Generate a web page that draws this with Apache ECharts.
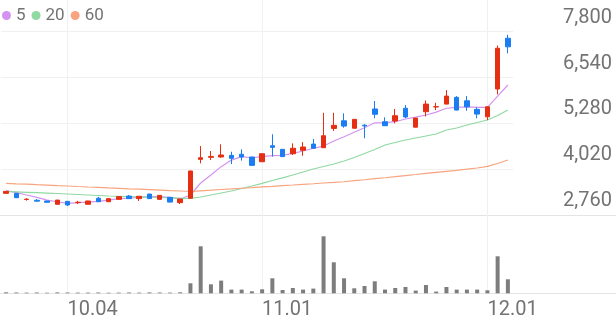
<!DOCTYPE html>
<html>
<head>
<meta charset="utf-8">
<script src="https://cdn.jsdelivr.net/npm/echarts@6/dist/echarts.min.js"></script>
<style>
html,body{margin:0;padding:0;background:#fff;}
#chart{width:616px;height:321px;}
</style>
</head>
<body>
<div id="chart"></div>
<script>
// ---- data ----
const dates = ['09.20','09.21','09.22','09.25','09.26','09.27',
 '10.04','10.05','10.06','10.10','10.11','10.12','10.13','10.16','10.17','10.18','10.19','10.20','10.23','10.24','10.25','10.26','10.27','10.30','10.31',
 '11.01','11.02','11.03','11.06','11.07','11.08','11.09','11.10','11.13','11.14','11.15','11.16','11.17','11.20','11.21','11.22','11.23','11.24','11.27','11.28','11.29','11.30',
 '12.01','12.04','12.05'];
const opens  = [3355,3355,3185,3165,3145,3055,3135,3100,3055,3220,3125,3190,3280,3210,3335,3190,3245,3100,3220,4290,4345,4355,4400,4430,4355,4225,4665,4565,4445,4540,4710,4610,5140,5350,5145,5230,5675,5325,5345,5695,5175,5600,5730,5810,5995,5900,5665,5460,6225,7620];
const closes = [3410,3235,3195,3140,3110,3170,3035,3110,3145,3125,3210,3265,3210,3275,3210,3300,3115,3200,3970,4335,4370,4410,4320,4355,4125,4445,4620,4365,4595,4630,4595,4940,5225,5205,5390,5210,5530,5215,5490,5455,5425,5810,5740,6030,5645,5735,5535,5735,7345,7385];
const lows   = [3345,3230,3155,3135,3105,3050,3005,3060,3050,3120,3120,3185,3205,3145,3205,3185,3110,3060,3210,4180,4270,4335,4160,4255,4120,4220,4365,4360,4410,4390,4590,4605,5070,5160,5140,4870,5420,5210,5280,5420,5170,5470,5645,5805,5640,5625,5420,5370,6075,7205];
const highs  = [3420,3360,3220,3200,3150,3175,3140,3150,3150,3260,3215,3270,3310,3280,3345,3310,3250,3205,3975,4655,4520,4705,4500,4565,4360,4450,4980,4570,4730,4765,4850,5570,5570,5555,5395,5255,5895,5445,5675,5785,5430,5910,5845,6195,6030,6030,5720,5740,7420,7715];
const volumes = [10000,8000,7000,8000,6000,9000,8000,7000,7000,8000,6000,7000,8000,7000,9000,8000,7000,10000,100000,470000,90000,127000,37000,37000,20000,40000,150000,33000,53000,37000,47000,570000,310000,150000,50000,73000,120000,37000,53000,63000,27000,83000,17000,63000,37000,37000,37000,30000,370000,140000];
const ma5  = [3430,3375,3310,3245,3170,3125,3080,3100,3115,3135,3170,3210,3220,3245,3265,3265,3245,3200,3310,3640,3860,4090,4270,4365,4335,4365,4390,4400,4455,4520,4595,4655,4795,4910,5035,5160,5295,5300,5325,5400,5450,5510,5590,5695,5720,5735,5720,5720,6030,6335];
const ma20 = [3406,3395,3384,3373,3362,3351,3337,3324,3310,3296,3282,3274,3266,3258,3249,3241,3233,3225,3219,3255,3310,3365,3420,3488,3557,3631,3708,3783,3860,3942,4025,4093,4162,4244,4341,4451,4561,4684,4753,4822,4877,4932,4987,5097,5152,5234,5303,5372,5495,5646];
const ma60 = [3631,3618,3607,3593,3582,3568,3557,3543,3530,3519,3505,3494,3480,3469,3456,3444,3431,3420,3406,3425,3442,3461,3477,3496,3513,3532,3549,3568,3585,3604,3620,3640,3656,3675,3703,3730,3758,3785,3813,3843,3873,3904,3934,3961,3989,4019,4052,4099,4176,4272];
const priceTicks = [2760,4020,5280,6540,7800];
const dateTicks = ['10.04','11.01','12.01'];
const maNames = ['5','20','60'];

// ---- styles ----
const UP = '#e62f12', DOWN = '#1a7ef2';
const MA_COLORS = ['#d493f0','#8fd9a2','#f7a47f'];
const GRID_COLOR = '#f0f0f0';
const SEP_COLOR = '#e4e4e4';
const TXT = '#737373';
const FONT = 'Roboto, "Noto Sans", sans-serif';

const candleData = dates.map((d,i)=>[opens[i], closes[i], lows[i], highs[i]]);
const vLines = {
  silent: true, symbol: 'none', z: 1, animation: false,
  label: {show: false},
  lineStyle: {color: GRID_COLOR, width: 1, type: 'solid'},
  emphasis: {disabled: true},
  data: dateTicks.map(d => ({xAxis: d}))
};

const chart = echarts.init(document.getElementById('chart'), null, {renderer: 'canvas'});
chart.setOption({
  animation: false,
  backgroundColor: '#fff',
  textStyle: {fontFamily: FONT},
  legend: {
    data: maNames, left: 2, top: 7, icon: 'circle', itemWidth: 9, itemHeight: 9,
    itemGap: 6, padding: 0, selectedMode: false,
    textStyle: {fontSize: 17, color: TXT, fontFamily: FONT}
  },
  grid: [
    {left: 1, top: 0, width: 512, height: 215},
    {left: 1, top: 215, width: 512, height: 78.3},
    {left: 0, right: 0, top: 0, height: 215},
    {left: 0, right: 0, top: 215, height: 78.3}
  ],
  xAxis: [
    {type: 'category', gridIndex: 0, data: dates, boundaryGap: true,
     axisLine: {show: false}, axisTick: {show: false}, axisLabel: {show: false}, splitLine: {show: false}},
    {type: 'category', gridIndex: 1, data: dates, boundaryGap: true,
     axisLine: {show: false}, axisTick: {show: false}, splitLine: {show: false},
     axisLabel: {show: true, interval: (i, v) => dateTicks.includes(v), align: 'left',
       fontSize: 20, color: TXT, fontFamily: FONT, margin: 7}},
    {type: 'value', gridIndex: 2, axisLine: {show: true, onZero: false, lineStyle: {color: SEP_COLOR}},
     axisTick: {show: false}, axisLabel: {show: false}, splitLine: {show: false}},
    {type: 'value', gridIndex: 3, axisLine: {show: true, onZero: false, lineStyle: {color: SEP_COLOR}},
     axisTick: {show: false}, axisLabel: {show: false}, splitLine: {show: false}}
  ],
  yAxis: [
    {type: 'value', gridIndex: 0, position: 'right', min: 2760, max: 8672, scale: true,
     axisLine: {show: false},
     axisTick: {show: false, customValues: priceTicks},
     axisLabel: {show: true, customValues: priceTicks, align: 'right', verticalAlign: 'bottom',
       margin: 99, fontSize: 20, color: TXT, fontFamily: FONT, padding: [0,0,4,0],
       formatter: v => v.toLocaleString('en-US')},
     splitLine: {show: true, lineStyle: {color: GRID_COLOR, width: 1}}},
    {type: 'value', gridIndex: 1, min: 0, max: 783000, show: false},
    {type: 'value', gridIndex: 2, show: false},
    {type: 'value', gridIndex: 3, show: false}
  ],
  series: [
    {name: 'price', type: 'candlestick', xAxisIndex: 0, yAxisIndex: 0, data: candleData,
     barWidth: 5,
     itemStyle: {color: UP, color0: DOWN, borderColor: UP, borderColor0: DOWN, borderWidth: 1},
     markLine: vLines, z: 3},
    ...maNames.map((n, k) => ({
      name: n, type: 'line', xAxisIndex: 0, yAxisIndex: 0,
      data: [ma5, ma20, ma60][k], symbol: 'none', showSymbol: false,
      itemStyle: {color: MA_COLORS[k]},
      lineStyle: {color: MA_COLORS[k], width: 1.2}, z: 2
    })),
    {name: 'volume', type: 'bar', xAxisIndex: 1, yAxisIndex: 1, data: volumes,
     barWidth: 4, itemStyle: {color: '#7d7d7d'}, markLine: vLines}
  ]
});
</script>
</body>
</html>
